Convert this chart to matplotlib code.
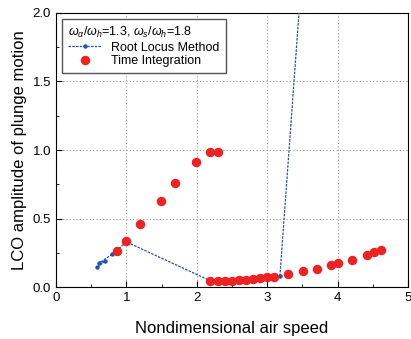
import numpy as np
from matplotlib import pyplot as plt
from matplotlib.ticker import MultipleLocator

plt.rcParams['font.family'] = ['Liberation Sans', 'DejaVu Sans']
plt.rcParams['mathtext.fontset'] = 'custom'
plt.rcParams['mathtext.rm'] = 'Liberation Sans'
plt.rcParams['mathtext.it'] = 'Liberation Sans:italic'

# root locus method
rl_speed = [0.59, 0.70, 0.61, 0.80, 0.87, 1.00, 2.20, 2.50, 2.80, 3.00, 3.18, 3.50]
rl_amp = [0.145, 0.19, 0.175, 0.24, 0.27, 0.33, 0.045, 0.048, 0.058, 0.07, 0.08, 2.35]

# time integration
ti_speed = [0.87, 1.00, 1.19, 1.49, 1.69, 1.99, 2.19, 2.30,
            2.19, 2.30, 2.40, 2.50, 2.60, 2.70, 2.80, 2.90, 3.00, 3.10,
            3.30, 3.51, 3.71, 3.91, 4.01, 4.21, 4.41, 4.51, 4.61]
ti_amp = [0.266, 0.334, 0.458, 0.63, 0.757, 0.91, 0.987, 0.987,
          0.044, 0.044, 0.047, 0.047, 0.049, 0.054, 0.058, 0.063, 0.071, 0.076,
          0.093, 0.115, 0.134, 0.159, 0.173, 0.20, 0.232, 0.254, 0.273]

fig = plt.figure(figsize=(4.11, 3.39), dpi=100)
ax = fig.add_axes([0.136, 0.153, 0.857, 0.809])

ax.plot(rl_speed, rl_amp, linestyle=(0, (2, 1)), color="#2255aa", linewidth=0.9,
        marker="o", markersize=2.2, label="Root Locus Method", zorder=3)
ax.plot(ti_speed, ti_amp, linestyle="none", marker="o", markersize=5.8,
        color="#ee2222", label="Time Integration", zorder=4)

ax.set_xlim(0, 5)
ax.set_ylim(0, 2.0)
ax.xaxis.set_major_locator(MultipleLocator(1))
ax.xaxis.set_minor_locator(MultipleLocator(0.5))
ax.yaxis.set_major_locator(MultipleLocator(0.5))
ax.yaxis.set_minor_locator(MultipleLocator(0.25))
ax.yaxis.set_major_formatter(plt.FormatStrFormatter("%.1f"))
ax.tick_params(which="both", direction="in", labelsize=9.5, length=4)
ax.tick_params(which="minor", length=2.5)
ax.grid(True, which="major", linestyle=(0, (1, 2)), color="#999999", linewidth=0.8)

ax.set_xlabel("Nondimensional air speed", fontsize=12, labelpad=12)
ax.set_ylabel("LCO amplitude of plunge motion", fontsize=12, labelpad=4)

leg = ax.legend(title=r"$\omega_\alpha/\omega_h$=1.3, $\omega_s/\omega_h$=1.8",
                loc="upper left", fontsize=9, title_fontsize=9, fancybox=False,
                edgecolor="#555555", framealpha=1, borderaxespad=0.5,
                handlelength=2.6, labelspacing=0.1, borderpad=0.5)
leg.get_frame().set_linewidth(1.0)
leg._legend_box.align = "left"

fig.savefig("out.png", dpi=100)
